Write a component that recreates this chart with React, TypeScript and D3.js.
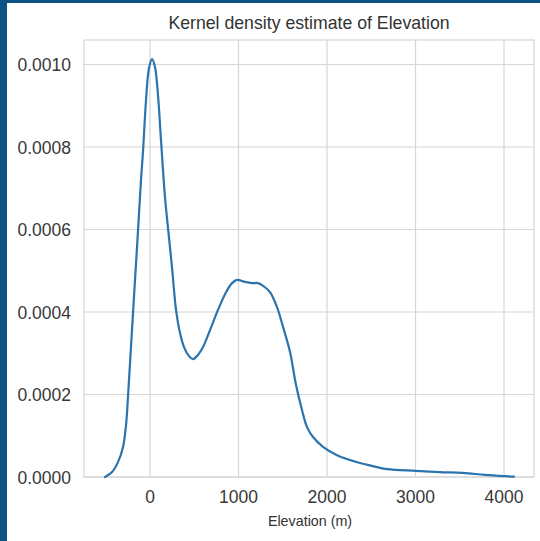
import * as d3 from 'd3';

// KDE curve: elevation (m) and density (x1e-4)
const ELEVATION = [-508, -429, -362, -305, -271, -249, -226, -192, -136, -102, -79, -45, -11, 23, 56, 90, 124, 169, 203, 249, 294, 339, 384, 441, 486, 542, 599, 678, 768, 859, 927, 983, 1073, 1153, 1220, 1299, 1356, 1435, 1503, 1582, 1650, 1718, 1774, 1842, 1955, 2113, 2373, 2508, 2678, 3006, 3277, 3537, 3785, 4011, 4113];
const DENSITY = [0, 0.12, 0.36, 0.73, 1.26, 1.94, 2.76, 3.98, 5.96, 7.2, 7.9, 9.14, 9.92, 10.13, 9.94, 9.26, 8.17, 6.79, 6.04, 5.07, 4.05, 3.49, 3.15, 2.93, 2.86, 2.96, 3.15, 3.56, 4.05, 4.48, 4.7, 4.78, 4.73, 4.7, 4.7, 4.6, 4.48, 4.12, 3.64, 3.03, 2.23, 1.62, 1.21, 0.97, 0.73, 0.53, 0.34, 0.27, 0.19, 0.15, 0.12, 0.1, 0.05, 0.02, 0.01];
const X_TICKS = [0, 1000, 2000, 3000, 4000];
const Y_TICKS = [0, 0.0002, 0.0004, 0.0006, 0.0008, 0.001];

const W = 540, H = 541;
const P = { left: 84, right: 534, top: 40, bottom: 477 };
const FONT = '"Liberation Sans", Arial, sans-serif';
const GRID = '#d6d6d6';

export default function App() {
  const x = d3.scaleLinear().domain([-746, 4339]).range([P.left, P.right]);
  const y = d3.scaleLinear().domain([0, 0.0010594]).range([P.bottom, P.top]);
  const pts = ELEVATION.map((e, i) => [e, DENSITY[i] * 1e-4] as [number, number]);
  const line = d3.line<[number, number]>().x(d => x(d[0])).y(d => y(d[1])).curve(d3.curveCatmullRom.alpha(0.5));

  return (
    <div style={{ position: 'fixed', left: 0, top: 0 }}>
      <svg width={W} height={H} style={{ display: 'block' }}>
        <rect width={W} height={H} fill="#ffffff" />
        <rect x={0} y={0} width={W} height={3} fill="#0c5283" />
        <rect x={0} y={0} width={7} height={H} fill="#0c5283" />
        {X_TICKS.map(t => (
          <line key={'gx' + t} x1={x(t)} x2={x(t)} y1={P.top} y2={P.bottom} stroke={GRID} strokeWidth={1.2} />
        ))}
        {Y_TICKS.map(t => (
          <line key={'gy' + t} x1={P.left} x2={P.right} y1={y(t)} y2={y(t)} stroke={GRID} strokeWidth={1.2} />
        ))}
        <rect x={P.left} y={P.top} width={P.right - P.left} height={P.bottom - P.top} fill="none" stroke={GRID} strokeWidth={1.2} />
        <path d={line(pts) || ''} fill="none" stroke="#2b74ad" strokeWidth={2.2} strokeLinejoin="round" strokeLinecap="round" />
        {Y_TICKS.map(t => (
          <text key={'ty' + t} x={71} y={y(t) + 6.5} textAnchor="end" fontFamily={FONT} fontSize={17.5} fill="#383838">
            {t.toFixed(4)}
          </text>
        ))}
        {X_TICKS.map(t => (
          <text key={'tx' + t} x={x(t)} y={503} textAnchor="middle" fontFamily={FONT} fontSize={17.5} fill="#383838">
            {t}
          </text>
        ))}
        <text x={310} y={526} textAnchor="middle" fontFamily={FONT} fontSize={14.3} fill="#333">Elevation (m)</text>
        <text x={309} y={29} textAnchor="middle" fontFamily={FONT} fontSize={17.7} fill="#333">Kernel density estimate of Elevation</text>
      </svg>
    </div>
  );
}
